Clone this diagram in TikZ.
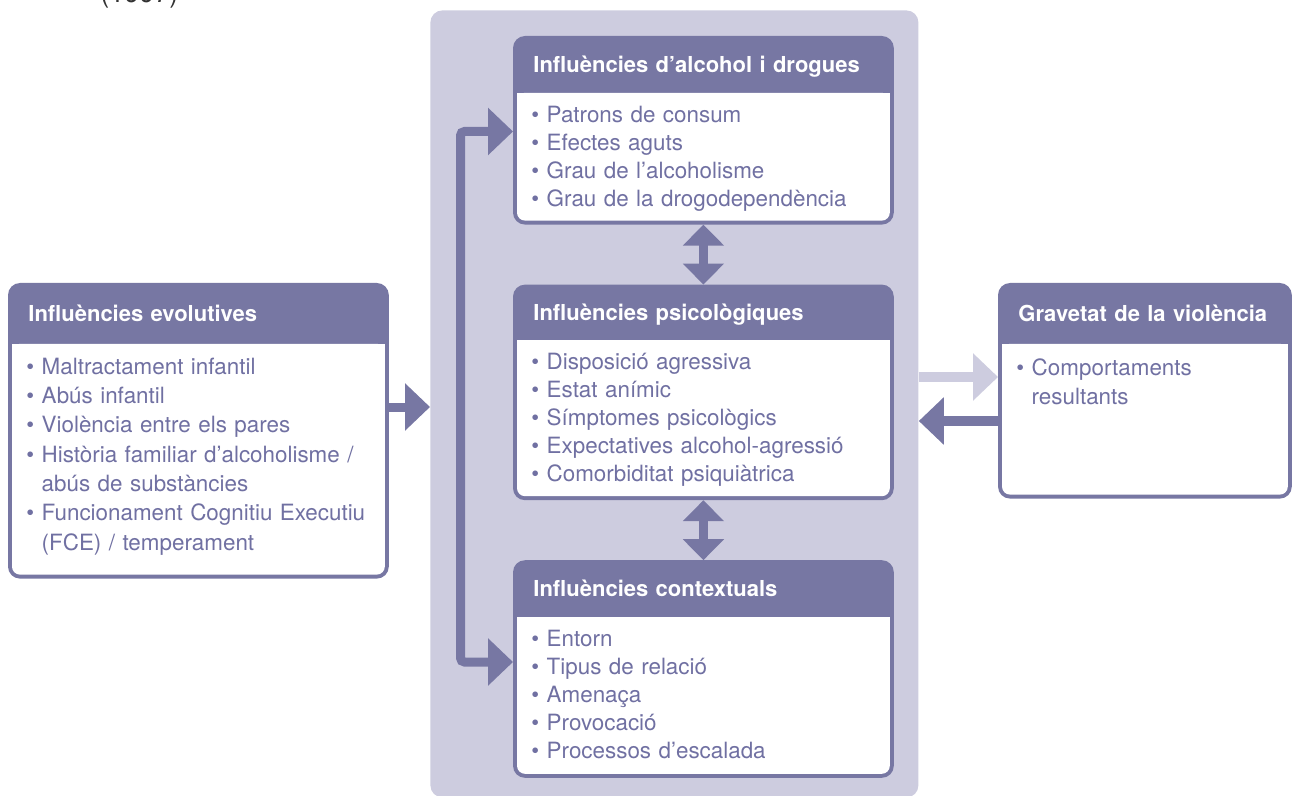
\documentclass[tikz,border=0pt]{standalone}
\usepackage{fontspec}
\setmainfont{TeX Gyre Heros}
\usetikzlibrary{positioning,arrows.meta,backgrounds}
\definecolor{hdcol}{RGB}{119,119,163}
\definecolor{panelcol}{RGB}{205,204,223}
\definecolor{itemcol}{RGB}{112,112,162}
\tikzset{
  head/.style={anchor=north west, text=white, font=\bfseries\fontsize{11}{14}\selectfont,
    text width=170pt, inner xsep=10pt, inner ysep=0pt, align=left,
    text height=10.5pt, text depth=2.5pt},
  items/.style={text=itemcol, font=\fontsize{11.2}{14}\selectfont, text width=172pt,
    inner xsep=9pt, inner ysep=0pt, align=left, text height=14.5pt},
  flow/.style={hdcol, line width=4.5pt, -{Triangle[length=12.5pt,width=23pt]}},
  loopback/.style={hdcol, line width=4.5pt, rounded corners=2pt,
    {Triangle[length=12.5pt,width=23pt]}-{Triangle[length=12.5pt,width=23pt]}},
  twoway/.style={hdcol, line width=4.2pt,
    {Triangle[length=10.5pt,width=20pt]}-{Triangle[length=10.5pt,width=20pt]}},
}
% header filled dark, body white, rounded frame
\newcommand{\infoframe}[2]{%
  \fill[hdcol, rounded corners=6pt] (#1.north west) rectangle (#2.south east);
  \fill[white, rounded corners=4pt] ([xshift=2pt]#2.north west) rectangle ([xshift=-2pt,yshift=2pt]#2.south east);
  \fill[white] ([xshift=2pt]#2.north west) rectangle ([xshift=-2pt]#2.east);}

\begin{document}
\begin{tikzpicture}[x=0.5pt, y=-0.5pt]
  \useasboundingbox (0,0) rectangle (1293,796);
  \begin{scope}
    \clip (0,0) rectangle (1293,796);
    \node[anchor=base west, inner sep=0pt, text=black!80, font=\fontsize{13.5}{16}\selectfont] (year) at (100,3) {(1997)};
  \end{scope}

  % central column
  \node[head, minimum height=28pt] (alc-h) at (513,36) {Influències d’alcohol i drogues};
  \node[items, below=0pt of alc-h, text depth=51pt] (alc) {•~Patrons de consum\\
    •~Efectes aguts\\
    •~Grau de l’alcoholisme\\
    •~Grau de la drogodependència};

  \node[head, minimum height=27.5pt, below=30pt of alc, anchor=north] (psy-h) {Influències psicològiques};
  \node[items, below=0pt of psy-h, text depth=65pt] (psy) {•~Disposició agressiva\\
    •~Estat anímic\\
    •~Símptomes psicològics\\
    •~Expectatives alcohol-agressió\\
    •~Comorbiditat psiquiàtrica};

  \node[head, minimum height=28pt, below=30pt of psy, anchor=north] (ctx-h) {Influències contextuals};
  \node[items, below=0pt of ctx-h, text depth=65.5pt] (ctx) {•~Entorn\\
    •~Tipus de relació\\
    •~Amenaça\\
    •~Provocació\\
    •~Processos d’escalada};

  % side boxes
  \node[head, minimum height=30pt] (evol-h) at (8,283) {Influències evolutives};
  \node[items, below=0pt of evol-h, text height=15pt, text depth=102pt,
    font=\fontsize{11.2}{14.65}\selectfont] (evol) {•~Maltractament infantil\\
    •~Abús infantil\\
    •~Violència entre els pares\\
    •~Història familiar d’alcoholisme /\\
    \hphantom{•~}abús de substàncies\\
    •~Funcionament Cognitiu Executiu\\
    \hphantom{•~}(FCE) / temperament};

  \node[head, minimum height=30pt, text width=126.5pt] (grav-h) at (998,283) {\mbox{Gravetat de la violència}};
  \node[items, below=0pt of grav-h, text width=128.5pt, text height=15.5pt, text depth=61.5pt,
    font=\fontsize{11.2}{14.5}\selectfont] (grav) {•~Comportaments\\
    \hphantom{•~}resultants};

  \begin{scope}[on background layer]
    \node[fill=panelcol, rounded corners=6pt, inner sep=0pt, anchor=north west,
      minimum width=244pt, minimum height=393.5pt] (panel) at (430,10) {};
    \infoframe{alc-h}{alc}
    \infoframe{psy-h}{psy}
    \infoframe{ctx-h}{ctx}
    \infoframe{evol-h}{evol}
    \infoframe{grav-h}{grav}
  \end{scope}

  % connectors
  \draw[flow] (evol.east |- 0,407) -- (panel.west |- 0,407);
  \draw[loopback] (ctx.west |- 0,662) -| (460.5,131.5) -- (alc.west |- 0,131.5);
  \draw[twoway] (alc.south) -- (psy-h.north);
  \draw[twoway] (psy.south) -- (ctx-h.north);
  \draw[flow, panelcol, line width=5pt] (panel.east |- 0,377) -- (grav.west |- 0,377);
  \draw[flow, line width=5pt] (grav.west |- 0,421) -- (panel.east |- 0,421);
\end{tikzpicture}
\end{document}
